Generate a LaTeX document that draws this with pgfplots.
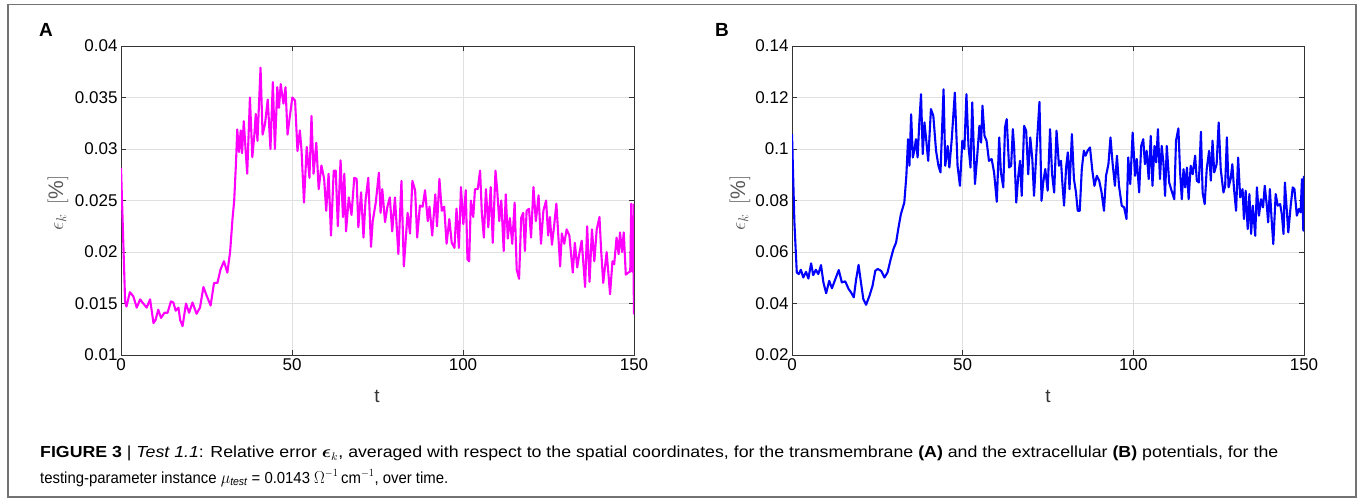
\documentclass[border=0pt]{standalone}
\usepackage{amsmath}
\usepackage{graphicx}
\usepackage{pgfplots}
\pgfplotsset{compat=1.18}
\usepackage{fontspec}
\setmainfont{Liberation Sans}
\definecolor{framegray}{gray}{0.45}
\definecolor{axgray}{gray}{0.2}
\definecolor{gridgray}{gray}{0.88}
\definecolor{labgray}{gray}{0.35}
\definecolor{magentaRGB}{rgb}{1,0,1}
\definecolor{blueRGB}{rgb}{0,0,1}

\pgfplotsset{
  errpanel/.style={
    scale only axis, anchor=south west,
    xmin=0, xmax=150, xtick={0,50,100,150},
    grid=major, major grid style={gridgray, line width=0.9pt},
    axis line style={axgray, line width=0.9pt},
    tick style={axgray, line width=0.9pt}, major tick length=5pt,
    tick align=inside,
    scaled ticks=false,
    /pgf/number format/assume math mode=true,
    ticklabel style={font=\fontsize{17}{17}\selectfont, text=black},
    every axis plot/.append style={line width=2.1pt, line join=round},
  }
}

\begin{document}
\begin{tikzpicture}[x=1pt, y=1pt]
\useasboundingbox (0,0) rectangle (1363,499);
\draw[framegray, line width=1.3pt] (8,2) rectangle (1356,494.5);

% (A) transmembrane potential
\begin{axis}[errpanel, at={(121pt,144pt)}, width=513pt, height=309pt,
  ymin=0.01, ymax=0.04,
  ytick={0.01,0.015,0.02,0.025,0.03,0.035,0.04},
  yticklabels={0.01,0.015,0.02,0.025,0.03,0.035,0.04}]
\addplot[magentaRGB, mark=none] coordinates {
(0,0.0282) (1.2,0.0152) (1.6,0.0147) (2.6,0.0161) (3.6,0.0157) (4.6,0.0146)
(5.6,0.0154) (6.5,0.0150) (7.5,0.0146) (8.5,0.0154) (9.5,0.0131) (10.1,0.0134)
(10.9,0.0144) (11.7,0.0136) (12.7,0.0141) (13.6,0.0141) (14.6,0.0152) (15.3,0.0151)
(16.0,0.0143) (16.8,0.0146) (17.3,0.0134) (18.0,0.0128) (19.0,0.0150) (19.9,0.0141)
(20.9,0.0151) (22.1,0.0140) (23.1,0.0146) (24.1,0.0166) (25.0,0.0158) (26.2,0.0148)
(27.2,0.0170) (28.2,0.0170) (29.1,0.0183) (30.1,0.0191) (31.1,0.0180) (31.9,0.0200)
(32.6,0.0232) (33.1,0.0250) (33.6,0.0285) (34.0,0.0319) (34.5,0.0297) (35.0,0.0318)
(35.4,0.0296) (35.9,0.0327) (36.4,0.0301) (36.9,0.0276) (37.7,0.0350) (38.4,0.0292)
(39.0,0.0314) (39.4,0.0334) (39.9,0.0308) (40.8,0.0379) (41.4,0.0314) (42.1,0.0324)
(42.9,0.0348) (43.7,0.0300) (44.4,0.0365) (45.0,0.0300) (45.7,0.0360) (46.2,0.0340)
(46.7,0.0363) (47.5,0.0344) (48.1,0.0360) (48.7,0.0314) (49.3,0.0330) (50.1,0.0350)
(50.9,0.0347) (51.6,0.0298) (52.3,0.0318) (52.8,0.0298) (53.5,0.0248) (54.3,0.0302)
(55.1,0.0272) (55.7,0.0332) (56.3,0.0276) (57.1,0.0306) (57.8,0.0261) (58.6,0.0284)
(59.4,0.0271) (60.0,0.0240) (60.7,0.0276) (61.4,0.0216) (62.2,0.0279) (62.8,0.0279)
(63.4,0.0225) (64.2,0.0289) (64.9,0.0234) (65.3,0.0276) (65.8,0.0220) (66.6,0.0253)
(67.4,0.0236) (68.2,0.0272) (68.9,0.0271) (69.4,0.0224) (70.2,0.0258) (70.9,0.0214)
(71.5,0.0250) (72.3,0.0272) (73.1,0.0205) (73.6,0.0230) (74.5,0.0248) (75.4,0.0277)
(75.9,0.0238) (76.4,0.0261) (77.2,0.0229) (77.9,0.0244) (78.6,0.0253) (79.3,0.0220)
(80.1,0.0253) (81.1,0.0198) (82.0,0.0269) (82.7,0.0186) (83.8,0.0238) (84.5,0.0218)
(85.2,0.0269) (86.0,0.0260) (86.6,0.0214) (87.4,0.0245) (88.2,0.0244) (88.9,0.0260)
(89.7,0.0230) (90.2,0.0244) (91.0,0.0216) (91.9,0.0256) (92.4,0.0225) (93.1,0.0271)
(93.8,0.0240) (94.5,0.0244) (95.2,0.0208) (96.0,0.0232) (96.7,0.0209) (97.5,0.0204)
(98.1,0.0242) (98.8,0.0204) (99.4,0.0263) (100.1,0.0227) (100.8,0.0260) (101.3,0.0193)
(101.8,0.0191) (102.3,0.0250) (103.0,0.0234) (103.5,0.0261) (104.3,0.0261) (105.0,0.0279)
(105.5,0.0238) (106.1,0.0214) (106.7,0.0261) (107.4,0.0224) (108.1,0.0263) (108.7,0.0209)
(109.5,0.0279) (110.0,0.0260) (110.6,0.0230) (111.2,0.0250) (111.9,0.0201) (112.5,0.0256)
(113.1,0.0213) (113.7,0.0233) (114.4,0.0208) (115.1,0.0248) (115.7,0.0183) (116.4,0.0174)
(117.0,0.0233) (117.6,0.0238) (118.1,0.0201) (118.6,0.0240) (119.3,0.0242) (119.9,0.0214)
(120.6,0.0263) (121.3,0.0230) (122.1,0.0255) (122.8,0.0208) (123.5,0.0240) (124.3,0.0250)
(124.9,0.0216) (125.4,0.0234) (126.0,0.0207) (126.6,0.0224) (127.3,0.0247) (127.8,0.0220)
(128.4,0.0186) (128.9,0.0218) (129.6,0.0208) (130.3,0.0222) (131.1,0.0216) (132.1,0.0180)
(132.7,0.0209) (133.4,0.0185) (134.0,0.0198) (134.7,0.0211) (135.7,0.0166) (136.3,0.0225)
(137.0,0.0171) (137.7,0.0222) (138.4,0.0191) (139.1,0.0222) (139.9,0.0234) (140.4,0.0201)
(141.0,0.0170) (142.0,0.0200) (143.0,0.0159) (143.7,0.0191) (144.2,0.0188) (144.9,0.0214)
(145.5,0.0198) (145.9,0.0219) (146.5,0.0200) (147.0,0.0219) (147.6,0.0178) (148.3,0.0180)
(148.9,0.0181) (149.2,0.0247) (149.5,0.0181) (149.8,0.0200) (150,0.0140) (150,0.0247)
};
\end{axis}

% (B) extracellular potential
\begin{axis}[errpanel, at={(792pt,144pt)}, width=512pt, height=309pt,
  ymin=0.02, ymax=0.14,
  ytick={0.02,0.04,0.06,0.08,0.1,0.12,0.14},
  yticklabels={0.02,0.04,0.06,0.08,0.1,0.12,0.14}]
\addplot[blueRGB, mark=none] coordinates {
(0,0.1058) (0.7,0.0715) (1.4,0.0521) (1.95,0.0514) (2.6,0.0531) (3.3,0.0501)
(4.1,0.0523) (4.8,0.0497) (5.6,0.0556) (6.2,0.0510) (7.0,0.0531) (7.7,0.0514)
(8.5,0.0549) (9.2,0.0482) (10.0,0.0440) (10.9,0.0488) (11.7,0.0459) (12.7,0.0495)
(13.7,0.0530) (14.6,0.0482) (15.6,0.0486) (16.6,0.0456) (17.3,0.0443) (18.1,0.0424)
(18.8,0.0495) (19.5,0.0550) (20.2,0.0482) (20.9,0.0417) (21.7,0.0395) (22.7,0.0430)
(23.6,0.0469) (24.4,0.0527) (25.1,0.0534) (26.1,0.0527) (27.1,0.0501) (28.0,0.0521)
(28.8,0.0566) (29.7,0.0611) (30.5,0.0637) (31.2,0.0695) (31.9,0.0747) (32.9,0.0792)
(33.5,0.0896) (34.0,0.1038) (34.4,0.0935) (34.9,0.1135) (35.4,0.0967) (35.9,0.1000)
(36.3,0.1038) (36.8,0.0967) (37.3,0.1103) (37.8,0.1213) (38.3,0.0980) (38.8,0.1103)
(39.3,0.1038) (39.9,0.0954) (40.7,0.1155) (41.4,0.1129) (42.2,0.0993) (42.9,0.0935)
(43.5,0.0909) (44.4,0.1232) (44.9,0.0935) (45.6,0.1012) (46.1,0.0928) (46.8,0.1038)
(47.7,0.1219) (48.5,0.0935) (49.2,0.0857) (49.9,0.1032) (50.5,0.1000) (51.1,0.1213)
(51.7,0.1012) (52.3,0.0928) (52.8,0.1181) (53.6,0.0864) (54.3,0.0980) (54.9,0.1090)
(55.4,0.1025) (55.8,0.1168) (56.4,0.1051) (57.0,0.1032) (57.7,0.0954) (58.5,0.0961)
(59.2,0.0909) (60.0,0.0795) (60.7,0.1045) (61.2,0.0909) (61.9,0.0851) (62.4,0.1084)
(62.9,0.1116) (63.6,0.0928) (64.2,0.0935) (64.7,0.1077) (65.1,0.1000) (65.7,0.0792)
(66.3,0.0896) (66.8,0.0954) (67.3,0.0818) (68.0,0.1090) (68.6,0.1071) (69.2,0.0902)
(69.8,0.1045) (70.4,0.0961) (70.9,0.0818) (71.7,0.1012) (72.5,0.1183) (73.1,0.0799)
(73.6,0.0870) (74.2,0.0922) (74.9,0.0838) (75.6,0.1077) (76.2,0.0902) (76.8,0.0831)
(77.5,0.1071) (78.2,0.0935) (78.8,0.0954) (79.2,0.0870) (79.7,0.0780) (80.3,0.0928)
(80.8,0.0987) (81.3,0.0844) (82.0,0.1058) (82.6,0.0883) (83.2,0.0831) (83.7,0.0760)
(84.3,0.0760) (84.9,0.0922) (85.5,0.0993) (86.0,0.0974) (86.6,0.0993) (87.3,0.1006)
(88.0,0.0915) (88.6,0.0857) (89.3,0.0896) (90.0,0.0877) (90.7,0.0831) (91.4,0.0760)
(92.0,0.0896) (92.7,0.0941) (93.3,0.1045) (93.9,0.0948) (94.6,0.0857) (95.2,0.0974)
(95.8,0.0857) (96.6,0.0780) (97.3,0.0773) (98.0,0.0728) (98.5,0.0967) (99.1,0.0864)
(99.8,0.1064) (100.5,0.0896) (101.0,0.0961) (101.7,0.0831) (102.3,0.1012) (102.9,0.1038)
(103.4,0.0941) (103.9,0.0993) (104.5,0.0883) (105.1,0.1051) (105.6,0.0857) (106.2,0.1012)
(106.7,0.0948) (107.2,0.1077) (107.8,0.0883) (108.3,0.1012) (108.8,0.0948) (109.3,0.0818)
(109.8,0.1012) (110.5,0.0870) (111.2,0.0838) (112.0,0.0805) (112.5,0.1032) (113.2,0.1080)
(113.7,0.0909) (114.2,0.0805) (114.7,0.0922) (115.2,0.0851) (115.7,0.0928) (116.2,0.0805)
(116.8,0.0935) (117.4,0.0902) (118.1,0.0974) (118.6,0.0877) (119.2,0.0870) (119.8,0.1067)
(120.3,0.0831) (120.9,0.0786) (121.5,0.0922) (122.2,0.0993) (122.7,0.0877) (123.2,0.1032)
(123.7,0.0909) (124.4,0.0941) (125.0,0.1103) (125.6,0.0922) (126.4,0.0831) (126.9,0.0857)
(127.4,0.1045) (127.9,0.0851) (128.5,0.0883) (129.0,0.0941) (129.5,0.0844) (130.1,0.0760)
(130.7,0.0967) (131.3,0.0812) (132.0,0.0844) (132.4,0.0728) (132.9,0.0838) (133.5,0.0689)
(134.0,0.0825) (134.5,0.0670) (135.0,0.0780) (135.7,0.0663) (136.2,0.0851) (136.8,0.0741)
(137.4,0.0805) (138.0,0.0773) (138.5,0.0857) (139.1,0.0780) (139.5,0.0715) (140.0,0.0844)
(140.5,0.0728) (141.0,0.0631) (141.7,0.0825) (142.3,0.0780) (143.0,0.0786) (143.5,0.0747)
(144.0,0.0670) (144.4,0.0870) (144.9,0.0773) (145.4,0.0676) (146.1,0.0780) (146.7,0.0851)
(147.2,0.0844) (147.9,0.0741) (148.5,0.0767) (149.0,0.0754) (149.4,0.0883) (149.8,0.0683)
(150,0.0896)
};
\end{axis}

% panel letters
\node[font=\fontsize{19}{19}\selectfont\bfseries] at (46,469) {A};
\node[font=\fontsize{19}{19}\selectfont\bfseries] at (722,469) {B};

% axis labels
\node[rotate=90, text=labgray, font=\fontsize{21}{21}\selectfont] at (58,296) {$\epsilon_k\ \,[\%]$};
\node[rotate=90, text=labgray, font=\fontsize{21}{21}\selectfont] at (740,296) {$\epsilon_k\ \,[\%]$};
\node[font=\fontsize{19}{19}\selectfont, text=axgray] at (377,103) {t};
\node[font=\fontsize{19}{19}\selectfont, text=axgray] at (1048,103) {t};

% caption
\node[anchor=base west, inner sep=0pt, font=\fontsize{16}{16}\selectfont] at (40,41.5)
  {\resizebox{1238pt}{\height}{\textbf{FIGURE 3} \textbar{} \textit{Test 1.1}: Relative error $\boldsymbol{\epsilon}_k$, averaged with respect to the spatial coordinates, for the transmembrane \textbf{(A)} and the extracellular \textbf{(B)} potentials, for the}};
\node[anchor=base west, inner sep=0pt, font=\fontsize{16}{16}\selectfont] at (40,16)
  {\resizebox{408pt}{\height}{testing-parameter instance $\mu_{\textit{test}}$ = 0.0143 $\Omega^{-1}\,\mathrm{cm}^{-1}$, over time.}};
\end{tikzpicture}
\end{document}
